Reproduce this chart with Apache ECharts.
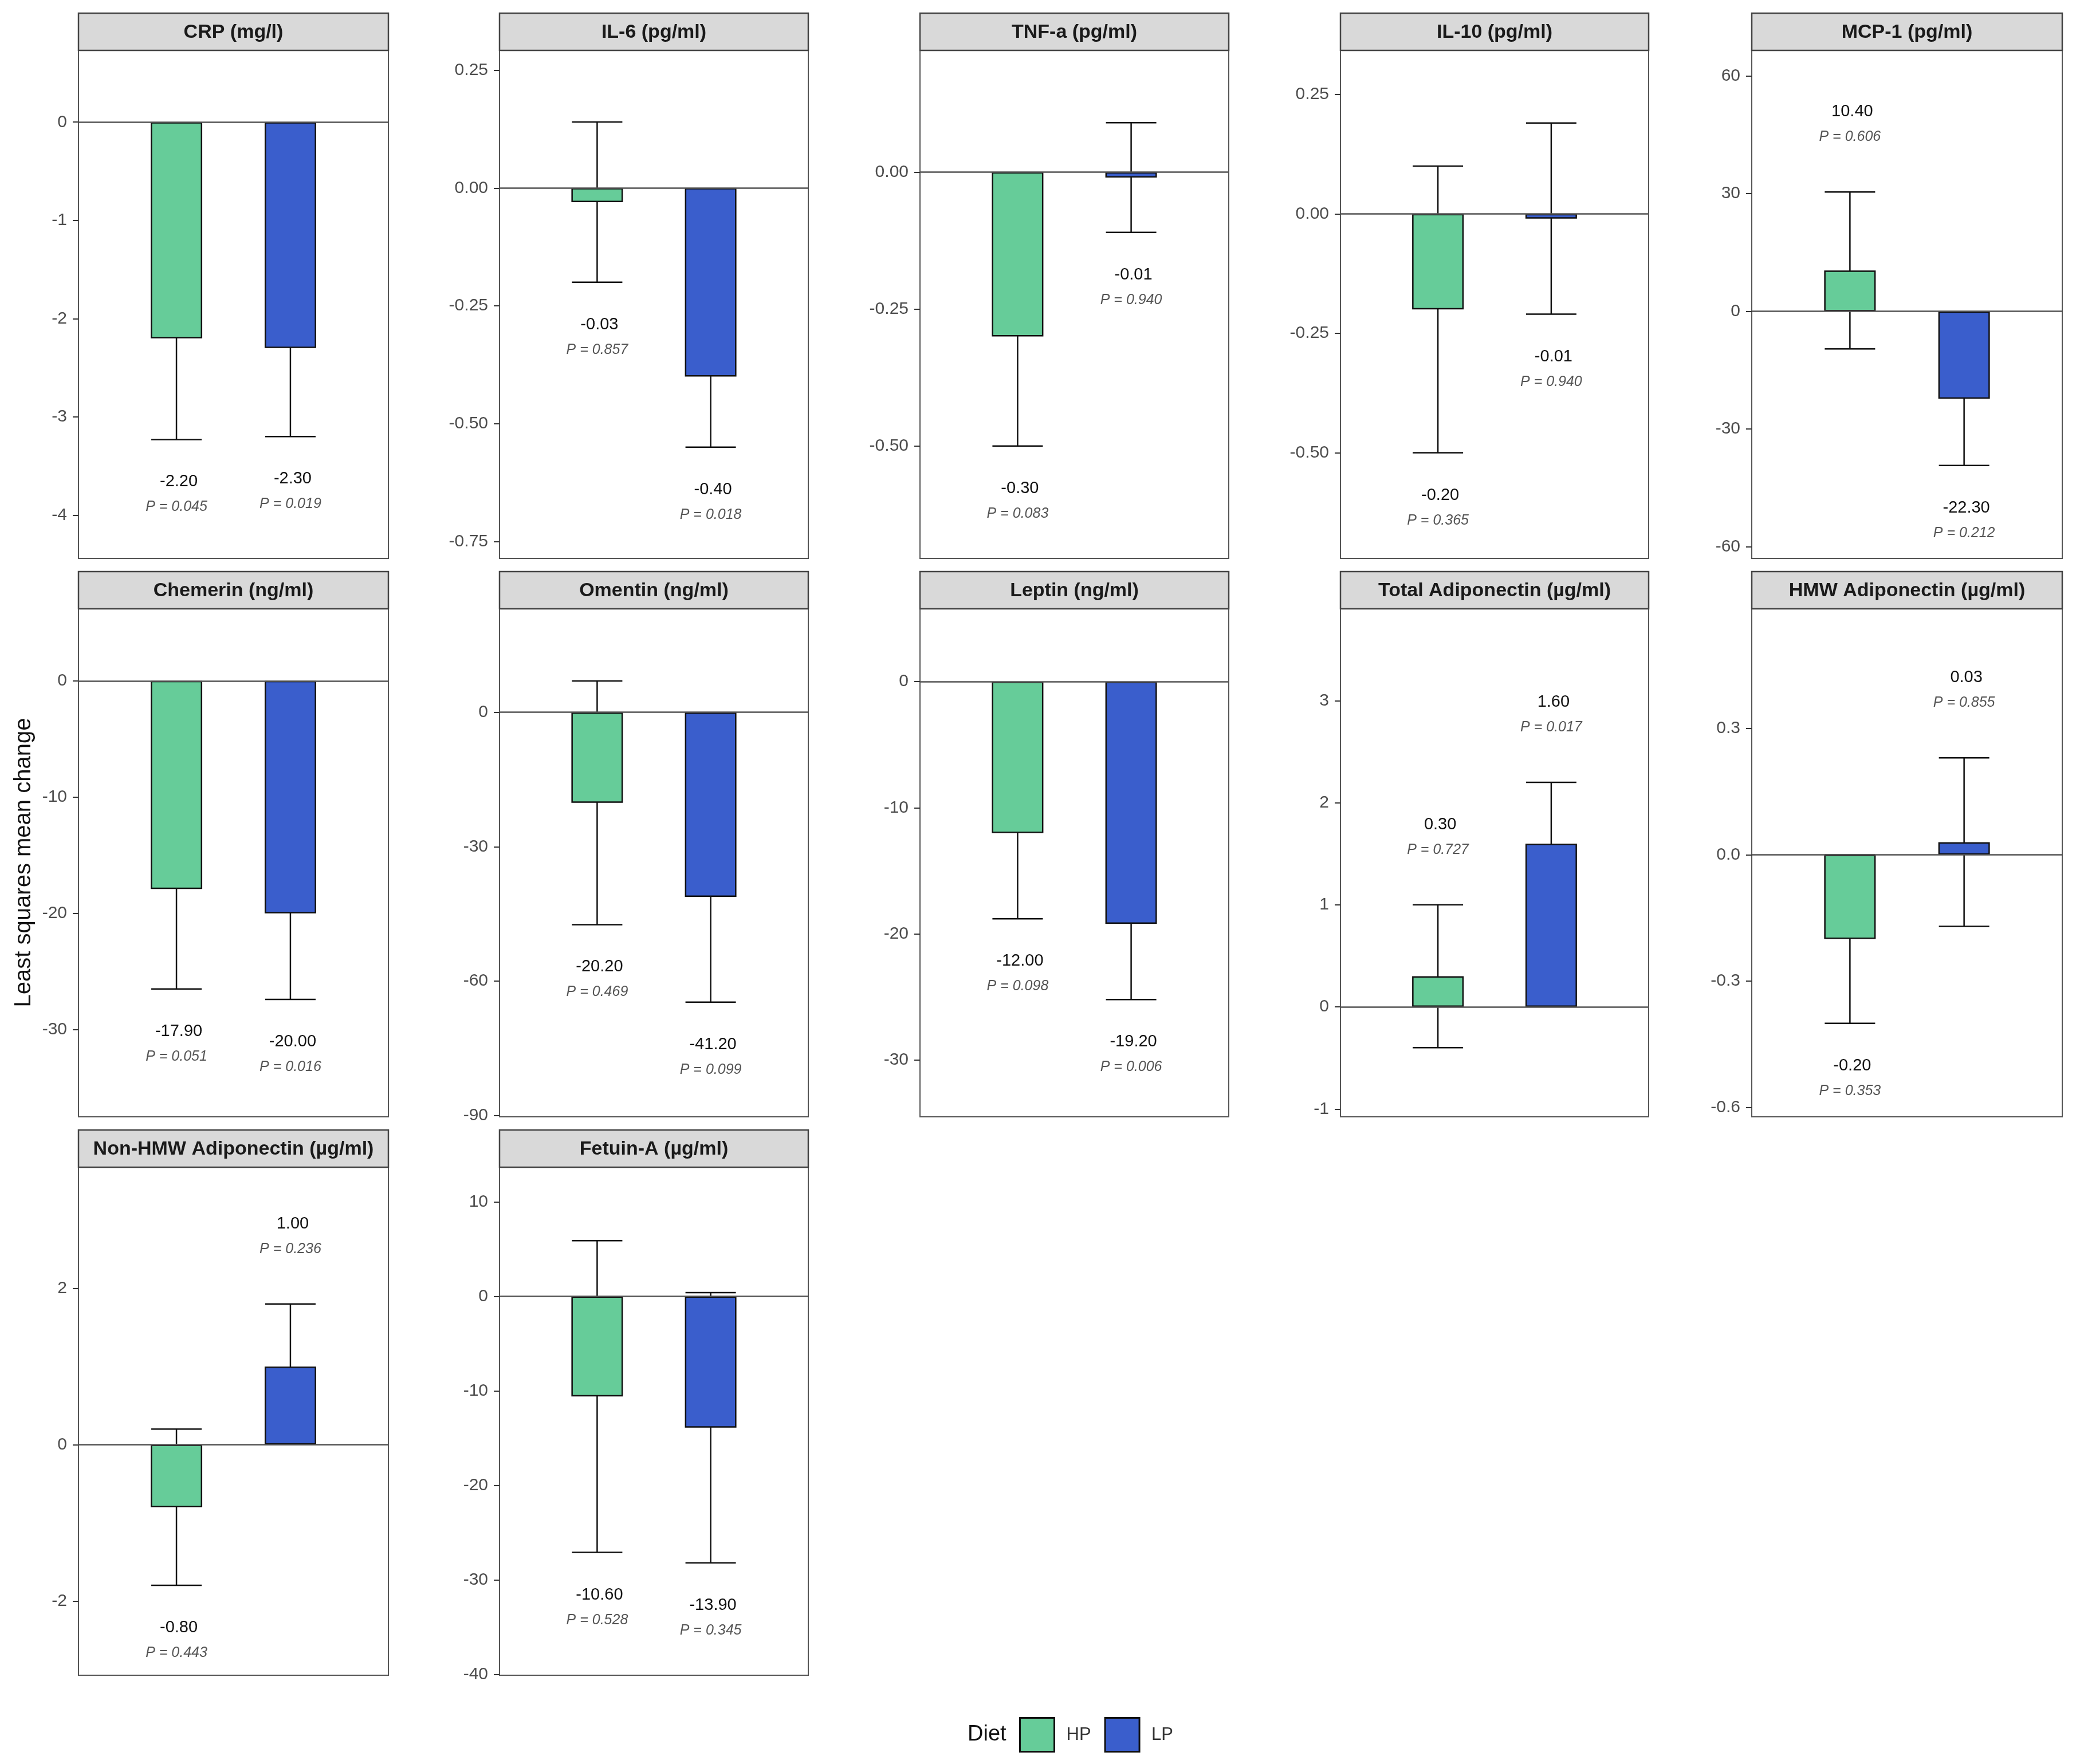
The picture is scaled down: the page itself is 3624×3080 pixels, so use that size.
<!DOCTYPE html>
<html>
<head>
<meta charset="utf-8">
<title>Least squares mean change by diet</title>
<script src="https://cdn.jsdelivr.net/npm/echarts@6.0.0/dist/echarts.min.js"></script>
<style>
  html, body { margin: 0; padding: 0; background: #fff; }
  #main { width: 3624px; height: 3080px; }
</style>
</head>
<body>
<div id="main"></div>
<script>
// facets (one panel per marker)
var panels = ['CRP (mg/l)', 'IL-6 (pg/ml)', 'TNF-a (pg/ml)', 'IL-10 (pg/ml)', 'MCP-1 (pg/ml)',
              'Chemerin (ng/ml)', 'Omentin (ng/ml)', 'Leptin (ng/ml)', 'Total Adiponectin (µg/ml)',
              'HMW Adiponectin (µg/ml)', 'Non-HMW Adiponectin (µg/ml)', 'Fetuin-A (µg/ml)'];
var diets = ['HP', 'LP'];

// least squares mean change
var hpMean = [-2.20, -0.03, -0.30, -0.20, 10.40, -17.90, -20.20, -12.00, 0.30, -0.20, -0.80, -10.60];
var lpMean = [-2.30, -0.40, -0.01, -0.01, -22.30, -20.00, -41.20, -19.20, 1.60, 0.03, 1.00, -13.90];

// error bar half widths (read from the whiskers)
var hpErr = [1.03, 0.17, 0.20, 0.30, 20.0, 8.6, 27.2, 6.8, 0.70, 0.20, 1.00, 16.5];
var lpErr = [0.90, 0.15, 0.10, 0.20, 17.0, 7.4, 23.5, 6.0, 0.60, 0.20, 0.80, 14.3];

// p values
var hpP = ['0.045', '0.857', '0.083', '0.365', '0.606', '0.051', '0.469', '0.098', '0.727', '0.353', '0.443', '0.528'];
var lpP = ['0.019', '0.018', '0.940', '0.940', '0.212', '0.016', '0.099', '0.006', '0.017', '0.855', '0.236', '0.345'];

// free y scales
var yMin = [-4.44, -0.786, -0.705, -0.721, -63.0, -37.5, -90.3, -34.5, -1.077, -0.622, -2.95, -40.1];
var yMax = [0.73, 0.292, 0.222, 0.342, 66.5, 6.2, 23.1, 5.77, 3.90, 0.584, 3.55, 13.67];
var yTicks = [
  ['0', '-1', '-2', '-3', '-4'],
  ['0.25', '0.00', '-0.25', '-0.50', '-0.75'],
  ['0.00', '-0.25', '-0.50'],
  ['0.25', '0.00', '-0.25', '-0.50'],
  ['60', '30', '0', '-30', '-60'],
  ['0', '-10', '-20', '-30'],
  ['0', '-30', '-60', '-90'],
  ['0', '-10', '-20', '-30'],
  ['3', '2', '1', '0', '-1'],
  ['0.3', '0.0', '-0.3', '-0.6'],
  ['2', '0', '-2'],
  ['10', '0', '-10', '-20', '-30', '-40']
];

var means = [hpMean, lpMean];
var errs = [hpErr, lpErr];
var pvals = [hpP, lpP];
var colors = ['#66CC99', '#3A5ECC'];
var FONT = '"Liberation Sans", Arial, sans-serif';

// panel layout
var colLeft = [137, 872, 1606, 2340, 3058];
var colWidth = [541, 539, 539, 538, 542];
var rowPitch = 975;
var panelTop = 88;
var panelHeight = 887;
var stripHeight = 65;

var grids = [], xAxes = [], yAxes = [], series = [], graphics = [];

panels.forEach(function (name, i) {
    var r = Math.floor(i / 5), c = i % 5;
    var left = colLeft[c], width = colWidth[c];
    var top = panelTop + rowPitch * r;

    grids.push({
        left: left, top: top, width: width, height: panelHeight,
        show: true, backgroundColor: '#fff', borderColor: '#555', borderWidth: 2
    });

    xAxes.push({ type: 'value', gridIndex: i, min: 0.14, max: 2.86, show: false });

    var tickLabels = yTicks[i];
    var tickVals = tickLabels.map(Number);
    yAxes.push({
        type: 'value', gridIndex: i, min: yMin[i], max: yMax[i],
        splitLine: { show: false },
        axisLine: { show: true, lineStyle: { color: '#555', width: 2 } },
        axisTick: { show: true, length: 10, lineStyle: { color: '#333', width: 2 }, customValues: tickVals },
        axisLabel: {
            customValues: tickVals, margin: 20, color: '#4d4d4d', fontSize: 30, fontFamily: FONT,
            formatter: function (v) {
                for (var j = 0; j < tickVals.length; j++) {
                    if (Math.abs(tickVals[j] - v) < 1e-9) return tickLabels[j];
                }
                return '';
            }
        }
    });

    // bars
    diets.forEach(function (d, k) {
        var s = {
            type: 'bar', name: d, xAxisIndex: i, yAxisIndex: i,
            data: [[k + 1, means[k][i]]],
            barWidth: 90, barGap: '-100%', z: 3, silent: true,
            itemStyle: { color: colors[k], borderColor: '#111', borderWidth: 2.5 }
        };
        if (k === 1) {
            s.markLine = {
                silent: true, symbol: 'none', label: { show: false }, animation: false,
                lineStyle: { color: '#555', width: 2.5, type: 'solid' },
                data: [{ yAxis: 0 }]
            };
        }
        series.push(s);
    });

    // error bars, drawn behind the bars
    series.push({
        type: 'custom', xAxisIndex: i, yAxisIndex: i, z: 2, silent: true,
        data: diets.map(function (d, k) {
            return [k + 1, means[k][i] - errs[k][i], means[k][i] + errs[k][i]];
        }),
        renderItem: function (params, api) {
            var lo = api.coord([api.value(0), api.value(1)]);
            var hi = api.coord([api.value(0), api.value(2)]);
            var hw = 44;
            var st = { stroke: '#111', lineWidth: 2.5 };
            return {
                type: 'group', children: [
                    { type: 'line', shape: { x1: lo[0], y1: lo[1], x2: hi[0], y2: hi[1] }, style: st },
                    { type: 'line', shape: { x1: lo[0] - hw, y1: lo[1], x2: lo[0] + hw, y2: lo[1] }, style: st },
                    { type: 'line', shape: { x1: hi[0] - hw, y1: hi[1], x2: hi[0] + hw, y2: hi[1] }, style: st }
                ]
            };
        }
    });

    // value and p labels beyond the whisker end
    series.push({
        type: 'custom', xAxisIndex: i, yAxisIndex: i, z: 4, silent: true, clip: false,
        data: diets.map(function (d, k) {
            var m = means[k][i], e = errs[k][i];
            return [k + 1, m < 0 ? m - e : m + e, m];
        }),
        renderItem: function (params, api) {
            var k = params.dataIndex;
            var m = api.value(2);
            var pt = api.coord([api.value(0), api.value(1)]);
            var yv = m < 0 ? pt[1] + 74 : pt[1] - 140;
            var yp = yv + 44;
            return {
                type: 'group', children: [
                    {
                        type: 'text', x: pt[0] + 4, y: yv,
                        style: {
                            text: m.toFixed(2), fill: '#111', fontSize: 29, fontFamily: FONT,
                            textAlign: 'center', align: 'center', textVerticalAlign: 'middle', verticalAlign: 'middle'
                        }
                    },
                    {
                        type: 'text', x: pt[0], y: yp,
                        style: {
                            text: 'P = ' + pvals[k][i], fill: '#555', fontSize: 25, fontStyle: 'italic', fontFamily: FONT,
                            textAlign: 'center', align: 'center', textVerticalAlign: 'middle', verticalAlign: 'middle'
                        }
                    }
                ]
            };
        }
    });

    // facet strip
    var stripTop = top - stripHeight;
    graphics.push({
        type: 'rect', z: 10,
        shape: { x: left, y: stripTop, width: width, height: stripHeight },
        style: { fill: '#d9d9d9', stroke: '#444', lineWidth: 2.5 }
    });
    graphics.push({
        type: 'text', z: 11, x: left + width / 2, y: stripTop + stripHeight / 2 + 1,
        style: {
            text: name, fill: '#1a1a1a', fontSize: 34, fontWeight: 'bold', fontFamily: FONT,
            textAlign: 'center', textVerticalAlign: 'middle'
        }
    });
});

graphics.push({
    type: 'text', x: 42, y: 1506, rotation: Math.PI / 2,
    style: {
        text: 'Least squares mean change', fill: '#111', fontSize: 40, fontFamily: FONT,
        textAlign: 'center', textVerticalAlign: 'middle'
    }
});
graphics.push({
    type: 'text', x: 1689, y: 3029,
    style: { text: 'Diet', fill: '#111', fontSize: 38, fontFamily: FONT, textAlign: 'left', textVerticalAlign: 'middle' }
});

var myChart = echarts.init(document.getElementById('main'));
var option = {
    animation: false,
    backgroundColor: '#fff',
    grid: grids,
    xAxis: xAxes,
    yAxis: yAxes,
    series: series,
    graphic: graphics,
    legend: {
        data: diets, left: 1774, top: 2993, itemWidth: 60, itemHeight: 59, itemGap: 23,
        icon: 'rect', selectedMode: false,
        itemStyle: { borderColor: '#111', borderWidth: 3 },
        textStyle: { fontSize: 31, color: '#333', fontFamily: FONT, padding: [0, 0, 0, 16] }
    }
};
myChart.setOption(option);
</script>
</body>
</html>
